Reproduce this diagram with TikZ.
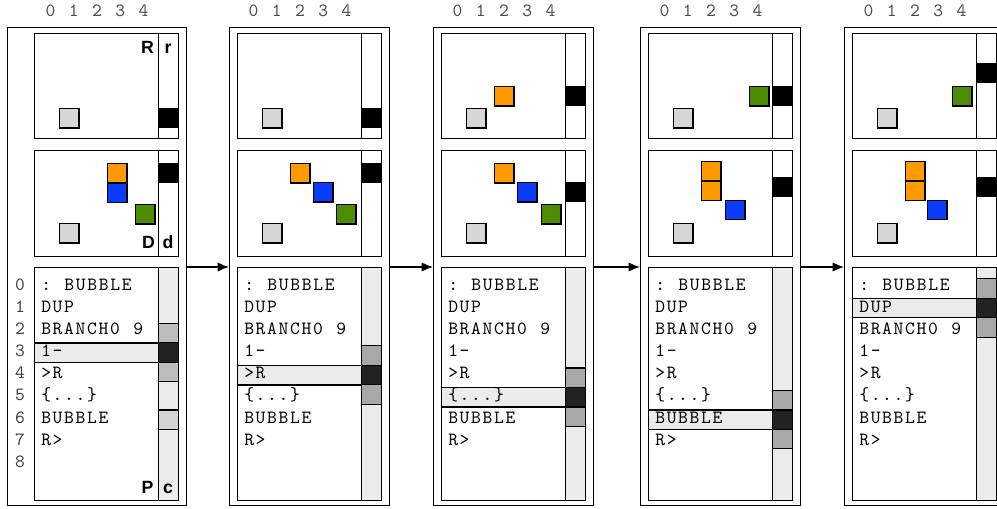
\documentclass[tikz,border=0pt]{standalone}
\usepackage{fontspec}
\setsansfont{Liberation Sans}
\setmonofont{lmmono10-regular.otf}[LetterSpace=9, WordSpace=1.17]
\usepackage{tikz}
\usetikzlibrary{arrows.meta, positioning}
\definecolor{cOrange}{HTML}{FF9900}
\definecolor{cBlue}{HTML}{0A3CFF}
\definecolor{cGreen}{HTML}{4D8C00}
\definecolor{cItem}{HTML}{D6D6D6}
\definecolor{cBar}{HTML}{EBEBEB}
\definecolor{cMid}{HTML}{A8A8A8}
\definecolor{cMidA}{HTML}{BDBDBD}
\definecolor{cLow}{HTML}{D4D4D4}
\definecolor{cDark}{HTML}{222222}
\tikzset{
  % outer frame of one machine state
  frame/.style={draw, line width=1.1pt, inner sep=0pt, anchor=north west},
  % inner panes (return stack, data stack, program)
  pane/.style={draw, line width=1.1pt, fill=white, inner sep=0pt, anchor=north west,
    minimum width=108pt},
  % narrow pointer columns r / d / c
  pcol/.style={draw, line width=1.1pt, fill=#1, inner sep=0pt, anchor=north west,
    minimum width=15pt},
  % stack cells
  item/.style={draw, line width=0.9pt, fill=#1, inner sep=0pt, anchor=north west,
    minimum width=14.6pt, minimum height=14.6pt},
  ptr/.style={fill=black, inner sep=0pt, anchor=north west,
    minimum width=15pt, minimum height=14.6pt},
  ccell/.style={draw, line width=0.9pt, fill=#1, inner sep=0pt, anchor=north west,
    minimum width=15pt, minimum height=14.6pt},
  % current instruction bar
  hl/.style={draw, line width=1.1pt, fill=cBar, inner sep=0pt, anchor=north west,
    minimum width=93pt, minimum height=14.6pt},
  code/.style={font=\fontsize{14}{14}\selectfont\ttfamily, anchor=base west, inner sep=0pt},
  idx/.style={font=\fontsize{14}{14}\selectfont\ttfamily, text=black!75, anchor=base, inner sep=0pt},
  tag/.style={font=\fontsize{13.3}{14}\selectfont\sffamily\bfseries, anchor=base, inner sep=0pt},
  flow/.style={-{Latex[length=8.5pt, width=7pt]}, line width=1.1pt},
}

\begin{document}
\begin{tikzpicture}[x=0.75pt, y=-0.75pt]
\useasboundingbox (0,0) rectangle (997,508);

% =====================================================================
% COMMON PARTS OF THE FIVE STATES  (k / left of panes / current row / c shade)
% =====================================================================
\foreach \k/\X/\h/\g in {1/34/3/cMidA, 2/237/4/cMid, 3/441/5/cMid, 4/648/6/cMid, 5/852/1/cMid} {
  \ifnum\k=1
    \node[frame, minimum width=134.25pt, minimum height=358.5pt] (frame\k) at (7,27) {};
  \else
    \node[frame, minimum width=120pt, minimum height=358.5pt] (frame\k) at ({\X-8},27) {};
  \fi
  \node[idx, text=black!70] (cols\k) at ({\X+63},16.7) {0 1 2 3 4};

  % return stack / data stack / program panes
  \node[pane, minimum height=78.75pt] (rst\k) at (\X,33) {};
  \node[pcol=white, minimum height=78.75pt] (rcol\k) at ({\X+124},33) {};
  \node[pane, minimum height=79.5pt] (dst\k) at (\X,150) {};
  \node[pcol=white, minimum height=79.5pt] (dcol\k) at ({\X+124},150) {};
  \node[pane, minimum height=174.75pt] (prog\k) at (\X,267) {};
  \node[pcol=cBar, minimum height=174.75pt] (ccol\k) at ({\X+124},267) {};

  % current instruction and its c window
  \node[hl] (hl\k) at (\X,{275.2+22.35*\h}) {};
  \node[ccell=\g] (cup\k) at ({\X+124},{255.7+22.35*\h}) {};
  \node[ccell=cDark] (cnow\k) at ({\X+124},{275.2+22.35*\h}) {};
  \node[ccell=\g] (cdn\k) at ({\X+124},{294.7+22.35*\h}) {};

  \foreach \r/\t in {0/{: BUBBLE}, 1/DUP, 2/{BRANCH0 9}, 3/1-, 4/>R, 5/{\{...\}}, 6/BUBBLE, 7/R>}
    \node[code] (ln\k\r) at ({\X+7},{290.7+22.05*\r}) {\t};
}

% ── state 1 ──────────────────────────────────────────────────────────
\foreach \r in {0,...,8}
  \node[idx] (row\r) at (20,{290.7+22.05*\r}) {\r};
\node[ccell=cLow] (cold1) at (158,409.4) {};
\node[item=cItem] (rb1) at (59,108) {};
\node[ptr] (rp1) at (158,108) {};
\node[item=cOrange] (d1a) at (107,163) {};
\node[item=cBlue] (d1b) at (107,182.5) {};
\node[item=cGreen] (d1c) at (135,204) {};
\node[item=cItem] (db1) at (59,223) {};
\node[ptr] (dp1) at (158,163) {};
\node[tag] (lR) at (147.5,53) {R};
\node[tag] (lr) at (168,53) {r};
\node[tag] (lD) at (148.5,248) {D};
\node[tag] (ld) at (168,248) {d};
\node[tag] (lP) at (147.5,493) {P};
\node[tag] (lc) at (168,493) {c};

% ── state 2 ──────────────────────────────────────────────────────────
\node[item=cItem] (rb2) at (262,108) {};
\node[ptr] (rp2) at (361,108) {};
\node[item=cOrange] (d2a) at (290,163) {};
\node[item=cBlue] (d2b) at (313,182) {};
\node[item=cGreen] (d2c) at (336,204) {};
\node[item=cItem] (db2) at (262,223) {};
\node[ptr] (dp2) at (361,163) {};

% ── state 3 ──────────────────────────────────────────────────────────
\node[item=cItem] (rb3) at (466,108) {};
\node[item=cOrange] (r3a) at (494,86) {};
\node[ptr] (rp3) at (565,86) {};
\node[item=cOrange] (d3a) at (494,163) {};
\node[item=cBlue] (d3b) at (517,182) {};
\node[item=cGreen] (d3c) at (541,204) {};
\node[item=cItem] (db3) at (466,223) {};
\node[ptr] (dp3) at (565,182) {};

% ── state 4 ──────────────────────────────────────────────────────────
\node[item=cItem] (rb4) at (673,108) {};
\node[item=cGreen] (r4a) at (749,86) {};
\node[ptr] (rp4) at (772,86) {};
\node[item=cOrange] (d4a) at (701,161) {};
\node[item=cOrange] (d4b) at (701,180.5) {};
\node[item=cBlue] (d4c) at (725,199.5) {};
\node[item=cItem] (db4) at (673,223) {};
\node[ptr] (dp4) at (772,177) {};

% ── state 5 ──────────────────────────────────────────────────────────
\node[item=cItem] (rb5) at (877,108) {};
\node[item=cGreen] (r5a) at (952,86) {};
\node[ptr] (rp5) at (976,63) {};
\node[item=cOrange] (d5a) at (905,161) {};
\node[item=cOrange] (d5b) at (905,180.5) {};
\node[item=cBlue] (d5c) at (927,199.5) {};
\node[item=cItem] (db5) at (877,223) {};
\node[ptr] (dp5) at (976,177) {};

% ── steps between states ─────────────────────────────────────────────
\foreach \a/\b in {1/2, 2/3, 3/4, 4/5}
  \draw[flow] (frame\a.east |- prog\a.north) -- (frame\b.west |- prog\a.north);

\end{tikzpicture}
\end{document}
